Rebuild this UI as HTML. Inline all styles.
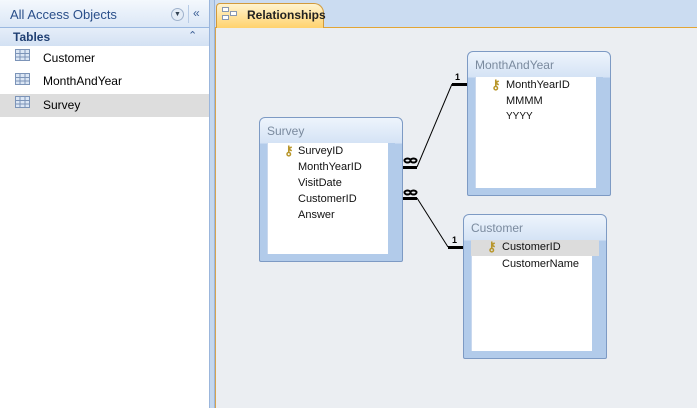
<!DOCTYPE html>
<html><head><style>
*{margin:0;padding:0;box-sizing:border-box}
body{width:697px;height:408px;overflow:hidden;background:#fff;font-family:"Liberation Sans",sans-serif;font-size:11px;position:relative}
.a{position:absolute}
.tbl{position:absolute;border:1px solid #7d9ac4;border-radius:6px 6px 2px 2px;background:linear-gradient(#eef4fc,#d5e3f5 25px,#b2cbea 26px);}
.tbl .t{position:absolute;left:7px;top:6px;color:#7a8a9e;font-size:12px}
.tbl .in{position:absolute;left:7px;right:7px;top:25px;bottom:7px;background:#fff;border-right:7px solid #b2cbea;border-left:1px solid #c9d8ee}
.f{position:absolute;font-size:11px;color:#111}
.key{position:absolute;color:#b8962a;font-size:13px;font-weight:bold;line-height:13px}
</style></head><body>
<div class="a" style="left:0;top:0;width:209px;height:408px;background:#fff"></div>
<div class="a" style="left:0;top:0;width:209px;height:28px;background:linear-gradient(#f4f8fd,#dbe7f6);border-bottom:1px solid #9ab8e0"></div>
<div class="a" style="left:10px;top:7px;font-size:13px;color:#2a4f8a">All Access Objects</div>
<div class="a" style="left:171px;top:8px;width:13px;height:13px;border-radius:50%;background:#e4ecf6;border:1px solid #9fb2cc;font-size:7px;text-align:center;line-height:11px;color:#345">▼</div>
<div class="a" style="left:188px;top:5px;width:1px;height:18px;background:#b8cce6"></div>
<div class="a" style="left:193px;top:6px;font-size:12px;color:#3b5f96">«</div>
<div class="a" style="left:0;top:28px;width:209px;height:18px;background:linear-gradient(#e6eef9,#d3e1f3)"></div>
<div class="a" style="left:13px;top:30px;font-size:12px;font-weight:bold;color:#1f3f73">Tables</div>
<div class="a" style="left:188px;top:29px;font-size:11px;color:#3b5f96">⌃</div>
<div class="a" style="left:0;top:94px;width:209px;height:23px;background:#dddddd"></div>
<svg class="a" style="left:15px;top:49px" width="16" height="65">
<g fill="#fff" stroke="#7c94b8" stroke-width="1">
<rect x="0.5" y="0.5" width="14" height="11" fill="#dbe6f4"/><rect x="0.5" y="24.5" width="14" height="11" fill="#dbe6f4"/><rect x="0.5" y="47.5" width="14" height="11" fill="#dbe6f4"/>
<path d="M0.5 4.5H14.5M0.5 8H14.5M5 0.5V11.5M10 0.5V11.5M0.5 28.5H14.5M0.5 32H14.5M5 24.5V35.5M10 24.5V35.5M0.5 51.5H14.5M0.5 55H14.5M5 47.5V58.5M10 47.5V58.5"/></g></svg>
<div class="a" style="left:43px;top:51px;font-size:12px">Customer</div>
<div class="a" style="left:43px;top:74px;font-size:12px">MonthAndYear</div>
<div class="a" style="left:43px;top:98px;font-size:12px">Survey</div>
<div class="a" style="left:209px;top:0;width:6px;height:408px;background:#c4d7ee;border-left:1px solid #9bb6dc;border-right:1px solid #9bb6dc"></div>
<div class="a" style="left:215px;top:0;width:482px;height:28px;background:#cbdcf1;border-bottom:1px solid #e2a535"></div>
<div class="a" style="left:216px;top:3px;width:108px;height:25px;background:linear-gradient(#fff4cf,#ffd26e);border:1px solid #d19a3c;border-bottom:none;border-radius:4px 10px 0 0"></div>
<svg class="a" style="left:222px;top:7px" width="16" height="14"><g fill="#fff" stroke="#8898b0"><rect x="0.5" y="0.5" width="6" height="4"/><rect x="8.5" y="4.5" width="6" height="4"/><rect x="0.5" y="8.5" width="6" height="4"/></g></svg>
<div class="a" style="left:247px;top:8px;font-size:12px;font-weight:bold;color:#222">Relationships</div>
<div class="a" style="left:215px;top:28px;width:482px;height:380px;background:#ebeef2;border-left:1px solid #d5a450"></div>
<svg class="a" style="left:0;top:0" width="697" height="408">
<g stroke="#000" fill="none">
<path d="M403 167.5H417" stroke-width="3"/><path d="M417 167L452 84" stroke-width="1"/><path d="M452 84.5H467" stroke-width="3"/>
<path d="M403 198.5H417" stroke-width="3"/><path d="M417 198L448 247" stroke-width="1"/><path d="M448 247.5H463" stroke-width="3"/>
<g stroke-width="2"><ellipse cx="407.5" cy="160.5" rx="3" ry="2"/><ellipse cx="413.5" cy="160.5" rx="3" ry="2"/>
<ellipse cx="407.5" cy="192.5" rx="3" ry="2"/><ellipse cx="413.5" cy="192.5" rx="3" ry="2"/></g>
</g>
<g font-family="Liberation Sans" font-weight="bold" font-size="9" fill="#000">
<text x="455" y="80">1</text><text x="452" y="243">1</text></g>
</svg>
<div class="tbl" style="left:259px;top:117px;width:144px;height:145px"><div class="t">Survey</div><div class="in"></div></div>
<div class="key" style="left:284px;top:144px">⚷</div>
<div class="f" style="left:298px;top:145px">SurveyID</div>
<div class="f" style="left:298px;top:161px">MonthYearID</div>
<div class="f" style="left:298px;top:177px">VisitDate</div>
<div class="f" style="left:298px;top:193px">CustomerID</div>
<div class="f" style="left:298px;top:209px">Answer</div>
<div class="tbl" style="left:467px;top:51px;width:144px;height:145px"><div class="t">MonthAndYear</div><div class="in"></div></div>
<div class="key" style="left:491px;top:78px">⚷</div>
<div class="f" style="left:506px;top:79px">MonthYearID</div>
<div class="f" style="left:506px;top:95px">MMMM</div>
<div class="f" style="left:506px;top:111px;font-size:10px">YYYY</div>
<div class="tbl" style="left:463px;top:214px;width:144px;height:145px"><div class="t">Customer</div><div class="in"></div></div>
<div class="a" style="left:471px;top:240px;width:128px;height:16px;background:#dcdcdc"></div>
<div class="key" style="left:487px;top:240px">⚷</div>
<div class="f" style="left:502px;top:241px">CustomerID</div>
<div class="f" style="left:502px;top:258px">CustomerName</div>
</body></html>
